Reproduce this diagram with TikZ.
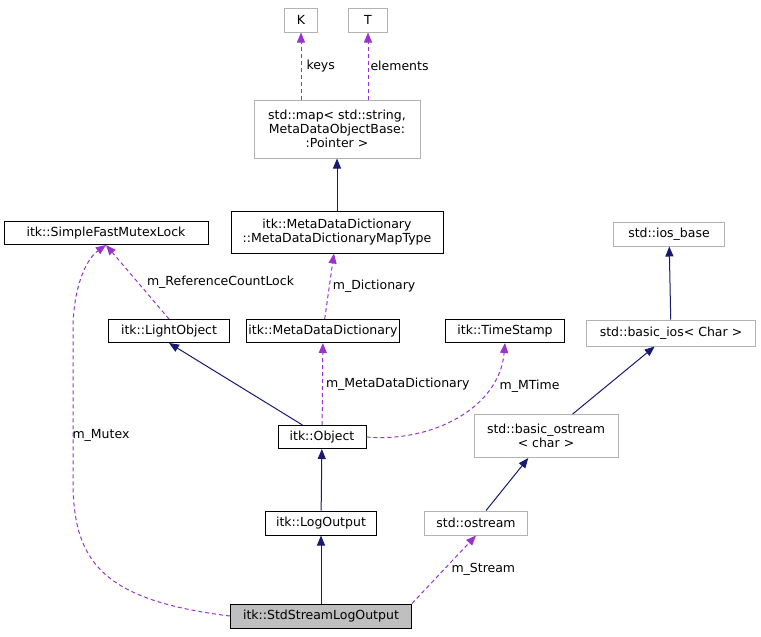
\documentclass[tikz,border=0pt]{standalone}
\usepackage{fontspec}
\setmainfont{DejaVu Sans}
\usetikzlibrary{arrows.meta}
\definecolor{navy}{HTML}{191970}
\definecolor{orchid}{HTML}{9A32CD}
\tikzset{
  cls/.style={draw=black, fill=white, line width=1pt, inner sep=2pt, font=\fontsize{12.5}{14}\selectfont, align=center},
  ext/.style={cls, draw=black!30},
  inh/.style={draw=navy, line width=1pt, -{Triangle[length=10pt,width=8pt]}},
  use/.style={draw=orchid, line width=1pt, dash pattern=on 4pt off 3pt, -{Triangle[length=10pt,width=8pt]}},
  lbl/.style={font=\fontsize{12.5}{14}\selectfont, inner sep=1pt}
}
\begin{document}
\begin{tikzpicture}[x=1pt,y=-1pt]
\useasboundingbox (0,0) rectangle (761,637);
\node (K) at (301,20) [ext, minimum width=33, minimum height=24]{K};
\node (T) at (368,20) [ext, minimum width=39, minimum height=24]{T};
\node (map) at (337,129) [ext, minimum width=166, minimum height=58]{std::map\textless{} std::string,\\ MetaDataObjectBase:\\:Pointer \textgreater};
\node (maptype) at (337,232) [cls, minimum width=212, minimum height=42]{itk::MetaDataDictionary\\::MetaDataDictionaryMapType};
\node (mutex) at (106,233) [cls, minimum width=204, minimum height=23]{itk::SimpleFastMutexLock};
\node (iosbase) at (669,234) [ext, minimum width=111, minimum height=24]{std::ios\_base};
\node (light) at (169,331) [cls, minimum width=121, minimum height=23]{itk::LightObject};
\node (dict) at (323,331) [cls, minimum width=147, minimum height=23]{itk::MetaDataDictionary};
\node (stamp) at (505,331) [cls, minimum width=119, minimum height=23]{itk::TimeStamp};
\node (basicios) at (671,333) [ext, minimum width=169, minimum height=26]{std::basic\_ios\textless{} Char \textgreater};
\node (object) at (322,437) [cls, minimum width=88, minimum height=23]{itk::Object};
\node (bostream) at (546,436) [ext, minimum width=144, minimum height=43]{std::basic\_ostream\\\textless{} char \textgreater};
\node (logout) at (321,523) [cls, minimum width=111, minimum height=24]{itk::LogOutput};
\node (ostream) at (476,523) [ext, minimum width=103, minimum height=24]{std::ostream};
\node (std) at (321,616) [cls, fill=black!25, minimum width=181, minimum height=24]{itk::StdStreamLogOutput};

\draw [use] (map.north -| K) -- node[lbl, right=4pt]{keys} (K);
\draw [use] (map.north -| T) -- node[lbl, right=1pt]{elements} (T);
\draw [inh] (maptype) -- (map);
\draw [use] (dict) -- node[lbl, right=2pt]{m\_Dictionary} (maptype);
\draw [use] (light.north) -- node[lbl, right=8pt]{m\_ReferenceCountLock} (mutex.south);
\draw [inh] (object) -- (light.south);
\draw [use] (object) -- node[lbl, right=2pt]{m\_MetaDataDictionary} (dict);
\draw [use] (object.east) to[out=-5, in=-95] node[lbl, pos=0.75, right=8pt]{m\_MTime} (stamp.south);
\draw [inh] (logout) -- (object);
\draw [inh] (std) -- (logout);
\draw [use] (std.north east) -- node[lbl, right=6pt]{m\_Stream} (ostream.south);
\draw [use] (std.west) .. controls (100,600) and (73,560) .. (73,480) -- node[lbl, right=-2pt, pos=0.3]{m\_Mutex} (73,330) .. controls (73,290) and (85,260) .. (mutex.south);
\draw [inh] (ostream) -- (bostream);
\draw [inh] (bostream) -- (basicios);
\draw [inh] (basicios) -- (iosbase);
\end{tikzpicture}
\end{document}
